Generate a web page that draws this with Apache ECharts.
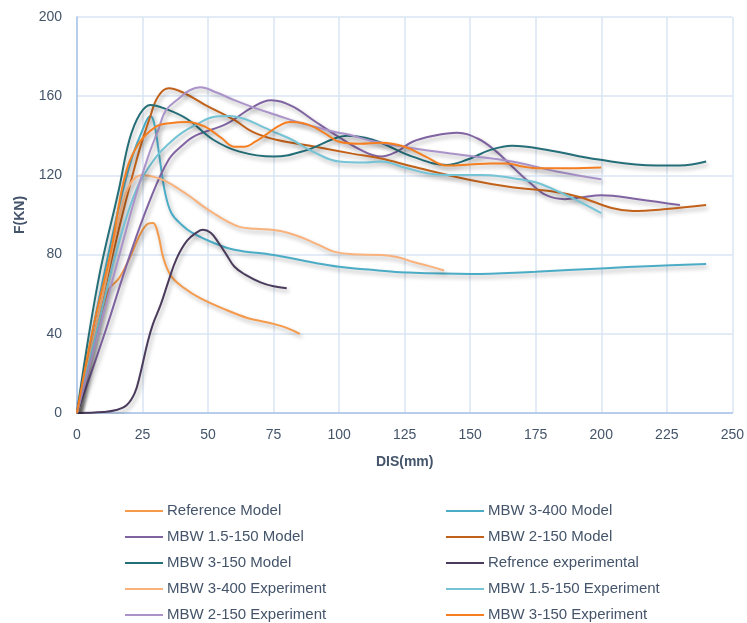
<!DOCTYPE html>
<html>
<head>
<meta charset="utf-8">
<script src="https://cdn.jsdelivr.net/npm/echarts@6/dist/echarts.min.js"></script>
<style>html,body{margin:0;padding:0;background:#fff}#c{width:747px;height:623px}</style>
</head>
<body>
<div id="c"></div>
<script>
var seriesNames = ["Reference Model","MBW 3-400 Model","MBW 1.5-150 Model","MBW 2-150 Model","MBW 3-150 Model","Refrence experimental","MBW 3-400 Experiment","MBW 1.5-150 Experiment","MBW 2-150 Experiment","MBW 3-150 Experiment"];
var xTicks = [0,25,50,75,100,125,150,175,200,225,250];
var yTicks = [0,40,80,120,160,200];

var refModel = [[0,0],[6,32],[12,62],[16,68],[20,78],[24,90],[27,95.5],[29,96],[31,90],[33,78],[36,69],[41,63],[47,58],[57,52],[65,48],[70,46.5],[75,45],[80,43],[85,40]];
var mbw3400Model = [[0,0],[8,55],[16,104],[21,129],[25,143],[28,150],[29.5,146],[31.5,129],[33.5,112],[36,101],[40,95],[44,91],[52,86],[60,82.5],[75,79.8],[90,76],[100,73.9],[115,72],[125,71],[150,70.2],[175,71.4],[200,73],[220,74.3],[240,75.2]];
var mbw15Model = [[0,0],[10,38],[20,79],[28,108],[35,128],[40,135],[45,140],[57,146],[67,154.5],[74,158],[82,155],[90,148],[98,141],[108,133],[116,129.5],[122,132],[128,137],[136,140],[145,141.5],[153,138.5],[160,132],[166,124.5],[173,116],[179,110],[186,108],[193,109],[200,110],[214,108],[230,105]];
var mbw2150Model = [[0,0],[14,82],[23,129],[28,150],[31,160],[35,164],[41,161.5],[49,155.5],[60,148],[67,142],[76,138],[91,134.5],[105,131],[116,128.5],[128,124.5],[150,117.7],[166,114],[181,112],[192,109],[204,103.5],[212,102],[225,103],[240,105]];
var mbw3150Model = [[0,0],[8,66],[16,113],[20,138],[24,151],[28,155.6],[33,154],[42,148.5],[52,138],[62,132],[75,129.5],[87,132.5],[98,138.5],[103,140],[110,139],[116,136.5],[128,129.5],[141,125.3],[149,128],[158,133],[166,135],[179,133],[199,128],[221,125],[230,125],[240,127]];
var refExp = [[0,0],[10,0.5],[15,1.5],[19,4],[22,10],[24,19],[27,36],[29,45],[32,55],[35,67],[38,78],[42,87],[46,91.5],[48,92.5],[51,91],[54,86],[57,80],[60,74],[64,70],[70,66],[75,64],[80,63]];
var mbw3400Exp = [[0,0],[10,60],[16,98],[20,115],[25,120.2],[30,119],[34,117],[39,113],[43,109.5],[48,104.5],[52,101],[57,97],[62,94],[68,93],[75,92.4],[80,91.2],[86,88.5],[92,85],[98,81.5],[105,80.2],[116,79.8],[122,78.8],[128,76.4],[134,74.3],[140,72]];
var mbw15Exp = [[0,0],[8,44],[16,86],[23,114],[30,129],[35,136],[40,141.5],[46,146],[52,149.5],[58,150],[64,148.5],[70,145],[76,141.5],[82,138],[90,132],[100,127],[110,126.5],[116,127],[125,124],[134,121],[145,120.2],[154,120.2],[162,119.5],[169,118],[175,116.5],[180,114],[189,108.5],[200,101]];
var mbw2150Exp = [[0,0],[8,40],[16,79],[22,108],[27,129],[31,143],[34,153],[39,159],[43,163],[47,164.5],[53,162],[60,158],[68,154],[76,150.5],[84,147],[91,144.5],[98,142],[104,140.5],[112,137.5],[128,133.7],[147,130.3],[166,127],[183,122],[200,118]];
var mbw3150Exp = [[0,0],[6,42],[13,82],[18,118],[23,135],[30,144.5],[36,146.5],[42,147],[49,144.5],[55,139],[60,134.5],[64,134.5],[68,137],[72,140.5],[77,145],[81,147],[86,146.5],[91,144],[96,140],[100,137],[108,136],[116,136.5],[125,134.5],[133,129.5],[141,125],[150,125.5],[158,126],[164,126],[170,124.5],[176,123.6],[188,123.6],[200,124]];

var seriesData = [refModel, mbw3400Model, mbw15Model, mbw2150Model, mbw3150Model, refExp, mbw3400Exp, mbw15Exp, mbw2150Exp, mbw3150Exp];
var colors = ["#F59A4B","#4BACC6","#8064A2","#C2621A","#246E78","#4A3B5C","#F9B27C","#74C4D6","#A993C9","#F57E20"];

var textColor = "#44546A";
var fontFam = "'Liberation Sans', Arial, sans-serif";

var series = seriesNames.map(function(n, i){
  return {
    name: n, type: 'line', data: seriesData[i], smooth: 0.4, symbol: 'none',
    lineStyle: {width: 2, color: colors[i], shadowColor: 'rgba(0,0,0,0.3)', shadowBlur: 4, shadowOffsetX: 2, shadowOffsetY: 3},
    itemStyle: {color: colors[i]},
    z: 2 + i
  };
});

var legendBase = {
  orient: 'vertical', icon: 'rect', itemWidth: 38, itemHeight: 2, itemGap: 10, height: 160, padding: 0,
  textStyle: {color: textColor, fontSize: 15, fontFamily: fontFam, padding: [0,0,0,-1], lineHeight: 16}
};

var chart = echarts.init(document.getElementById('c'), null, {renderer: 'canvas'});
chart.setOption({
  animation: false,
  backgroundColor: '#fff',
  color: colors,
  grid: {left: 77, right: 14, top: 17, bottom: 210, containLabel: false},
  xAxis: {
    type: 'value', min: xTicks[0], max: xTicks[xTicks.length-1], interval: 25,
    name: 'DIS(mm)', nameLocation: 'middle', nameGap: 42,
    nameTextStyle: {color: textColor, fontWeight: 'bold', fontSize: 14, fontFamily: fontFam},
    axisLine: {show: true, lineStyle: {color: '#A9C3E8', width: 1.5}},
    axisTick: {show: false},
    axisLabel: {color: textColor, fontSize: 14, fontFamily: fontFam, margin: 15},
    splitLine: {show: true, lineStyle: {color: '#D9E4F3', width: 1.5}}
  },
  yAxis: {
    type: 'value', min: yTicks[0], max: yTicks[yTicks.length-1], interval: 40,
    name: 'F(KN)', nameLocation: 'middle', nameGap: 50, nameRotate: 90,
    nameTextStyle: {color: textColor, fontWeight: 'bold', fontSize: 14, fontFamily: fontFam},
    axisLine: {show: true, lineStyle: {color: '#A9C3E8', width: 1.5}},
    axisTick: {show: false},
    axisLabel: {color: textColor, fontSize: 14, fontFamily: fontFam, margin: 15},
    splitLine: {show: true, lineStyle: {color: '#D9E4F3', width: 1.5}}
  },
  legend: [
    Object.assign({}, legendBase, {left: 125, top: 503, data: [seriesNames[0], seriesNames[2], seriesNames[4], seriesNames[6], seriesNames[8]]}),
    Object.assign({}, legendBase, {left: 446, top: 503, data: [seriesNames[1], seriesNames[3], seriesNames[5], seriesNames[7], seriesNames[9]]})
  ],
  series: series
});
</script>
</body>
</html>
